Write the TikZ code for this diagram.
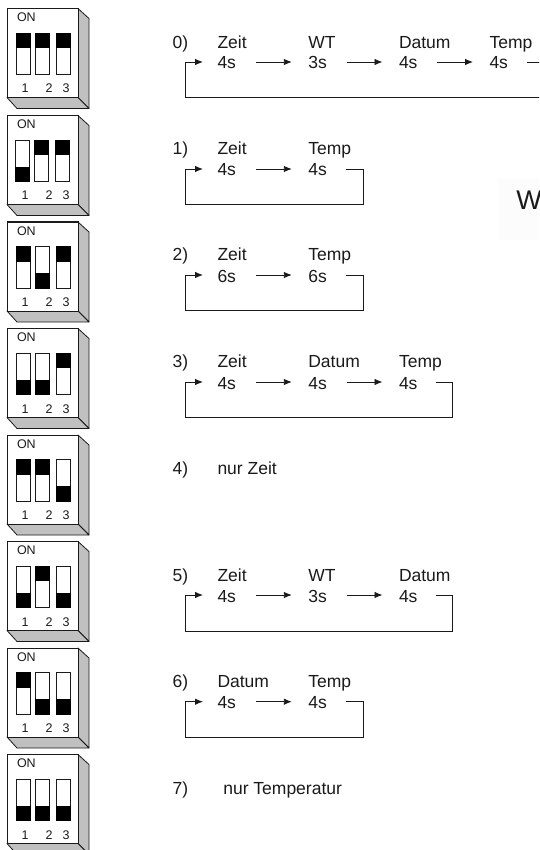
\documentclass[tikz,border=0pt]{standalone}
\usepackage{fontspec}
\setmainfont{Liberation Sans}
\usetikzlibrary{arrows.meta}
\definecolor{ink}{HTML}{1A1A1A}
\definecolor{sidegrey}{HTML}{C0C0C0}
\definecolor{ghost}{HTML}{FCFCFC}
\tikzset{
  lab/.style={anchor=base west,inner sep=0pt,outer sep=0pt,text=ink,font=\fontsize{17.5}{20}\selectfont},
  flow/.style={draw=ink,line width=0.9pt,-{Latex[length=8pt,width=6.5pt]},shorten <=20pt,shorten >=16.5pt},
  loopline/.style={draw=ink,line width=0.9pt,-{Latex[length=8pt,width=6.5pt]},shorten <=19pt,shorten >=14.5pt},
  body/.style={fill=white,draw=ink,line width=1pt},
  bevel/.style={fill=sidegrey,draw=ink,line width=0.8pt,line join=round},
  slot/.style={fill=white,draw=ink,line width=0.7pt},
  knob/.style={fill=black,draw=black,line width=0.5pt},
  tiny/.style={inner sep=0pt,outer sep=0pt,text=ink,font=\fontsize{12.5}{14}\selectfont}
}
% top y, x offset, state of sliders 1 2 3 (1 = black on top)
\newcommand{\dipblock}[6]{%
  \begin{scope}[shift={(0,#1)}]
    \path[bevel] (78,0) -- (89,10) -- (89,100) -- (78,89) -- cycle;
    \path[bevel] (7,89) -- (17,100) -- (89,100) -- (78,89) -- cycle;
    \path[body] (7,0) rectangle (78,89);
    \node[tiny,anchor=base west] (#6on) at (17,13) {ON};
    \foreach \sx/\st [count=\n] in {16/#3,35.5/#4,56/#5}{
      \path[slot] (\sx+#2,24.5) rectangle (\sx+14+#2,66);
      \ifnum\st=1
        \path[knob] (\sx+#2,24.5) rectangle (\sx+14+#2,39);
      \else
        \path[knob] (\sx+#2,51.5) rectangle (\sx+14+#2,66);
      \fi
    }
    \node[tiny,anchor=base] (#6a) at (25,84.5) {1};
    \node[tiny,anchor=base] (#6b) at (49,84.5) {2};
    \node[tiny,anchor=base] (#6c) at (66,84.5) {3};
  \end{scope}}
% last time node, first time node, right x, bottom y
\newcommand{\backloop}[4]{%
  \path[loopline] ([yshift=7pt]#1.base east) -| (#3,#4) -- (185,#4) |- ([yshift=7pt]#2.base west);}
\begin{document}
\begin{tikzpicture}[x=1pt,y=-1pt]
\useasboundingbox (0,0) rectangle (539,850);
\clip (0,0) rectangle (539,850);
\fill[white] (0,0) rectangle (539,850);
\fill[ghost] (498,178) rectangle (539,240);

\dipblock{8.5}{0}{1}{1}{1}{sa}
\dipblock{115.5}{-1}{0}{1}{1}{sb}
\dipblock{222}{0}{1}{0}{1}{sc}
\dipblock{328.5}{0}{0}{0}{1}{sd}
\dipblock{435}{0}{1}{1}{0}{se}
\dipblock{541.5}{0}{0}{1}{0}{sf}
\dipblock{648}{0}{1}{0}{0}{sg}
\dipblock{754.5}{0}{0}{0}{0}{sh}

% row 0
\node[lab] (n0) at (172.7,48.3) {0)};
\node[lab] (z0) at (217.5,48.3) {Zeit};
\node[lab] (w0) at (308.3,48.3) {WT};
\node[lab] (d0) at (399,48.3) {Datum};
\node[lab] (p0) at (489.5,48.3) {Temp};
\node[lab] (tz0) at (217.5,69) {4s};
\node[lab] (tw0) at (308.3,69) {3s};
\node[lab] (td0) at (399,69) {4s};
\node[lab] (tp0) at (489.5,69) {4s};
\path[flow] ([yshift=7pt]tz0.base east) -- ([yshift=7pt]tw0.base west);
\path[flow] ([yshift=7pt]tw0.base east) -- ([yshift=7pt]td0.base west);
\path[flow] ([yshift=7pt]td0.base east) -- ([yshift=7pt]tp0.base west);
\backloop{tp0}{tz0}{560}{97.7}

% row 1
\node[lab] (n1) at (172.7,155) {1)};
\node[lab] (z1) at (217.5,155) {Zeit};
\node[lab] (p1) at (308.3,155) {Temp};
\node[lab] (tz1) at (217.5,176) {4s};
\node[lab] (tp1) at (308.3,176) {4s};
\path[flow] ([yshift=7pt]tz1.base east) -- ([yshift=7pt]tp1.base west);
\backloop{tp1}{tz1}{363.3}{204}

% row 2
\node[lab] (n2) at (172.7,260.7) {2)};
\node[lab] (z2) at (217.5,260.7) {Zeit};
\node[lab] (p2) at (308.3,260.7) {Temp};
\node[lab] (tz2) at (217.5,282) {6s};
\node[lab] (tp2) at (308.3,282) {6s};
\path[flow] ([yshift=7pt]tz2.base east) -- ([yshift=7pt]tp2.base west);
\backloop{tp2}{tz2}{363.3}{310.7}

% row 3
\node[lab] (n3) at (172.7,367) {3)};
\node[lab] (z3) at (217.5,367) {Zeit};
\node[lab] (d3) at (308.3,367) {Datum};
\node[lab] (p3) at (399,367) {Temp};
\node[lab] (tz3) at (217.5,389) {4s};
\node[lab] (td3) at (308.3,389) {4s};
\node[lab] (tp3) at (399,389) {4s};
\path[flow] ([yshift=7pt]tz3.base east) -- ([yshift=7pt]td3.base west);
\path[flow] ([yshift=7pt]td3.base east) -- ([yshift=7pt]tp3.base west);
\backloop{tp3}{tz3}{452.3}{417}

% row 4
\node[lab] (n4) at (172.7,474.3) {4)};
\node[lab] (o4) at (217.5,474.3) {nur Zeit};

% row 5
\node[lab] (n5) at (172.7,581.7) {5)};
\node[lab] (z5) at (217.5,581.7) {Zeit};
\node[lab] (w5) at (308.3,581.7) {WT};
\node[lab] (d5) at (399,581.7) {Datum};
\node[lab] (tz5) at (217.5,602) {4s};
\node[lab] (tw5) at (308.3,602) {3s};
\node[lab] (td5) at (399,602) {4s};
\path[flow] ([yshift=7pt]tz5.base east) -- ([yshift=7pt]tw5.base west);
\path[flow] ([yshift=7pt]tw5.base east) -- ([yshift=7pt]td5.base west);
\backloop{td5}{tz5}{452.3}{631}

% row 6
\node[lab] (n6) at (172.7,687.7) {6)};
\node[lab] (d6) at (217.5,687.7) {Datum};
\node[lab] (p6) at (308.3,687.7) {Temp};
\node[lab] (td6) at (217.5,708.7) {4s};
\node[lab] (tp6) at (308.3,708.7) {4s};
\path[flow] ([yshift=7pt]td6.base east) -- ([yshift=7pt]tp6.base west);
\backloop{tp6}{td6}{363.3}{737.3}

% row 7
\node[lab] (n7) at (172.7,794) {7)};
\node[lab] (o7) at (223.3,794) {nur Temperatur};

% clipped word
\node[lab,font=\fontsize{27}{30}\selectfont] (wd) at (516.3,210) {W};
\end{tikzpicture}
\end{document}
